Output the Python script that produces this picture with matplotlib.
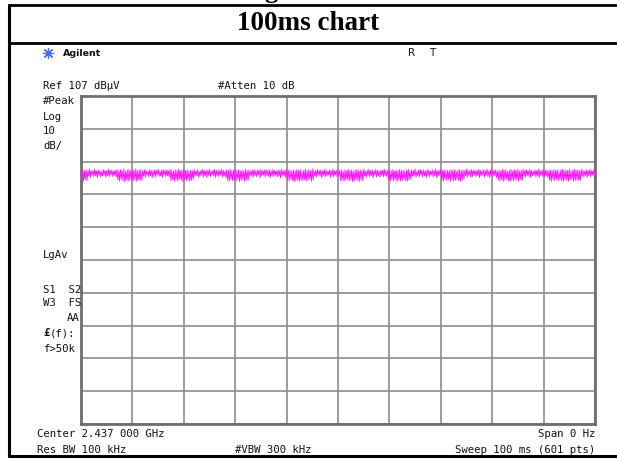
import numpy as np
import matplotlib
matplotlib.use("Agg")
import matplotlib.pyplot as plt
from matplotlib.lines import Line2D

W, H = 617, 459

# analyzer settings
REF_LEVEL = 107.0      # dBuV, top graticule line
DB_PER_DIV = 10.0
SWEEP_MS = 100.0
N_DIV = 10

# zero-span trace, dBuV, 601 sweep points
trace_db = [
    84.4, 81.3, 84.6, 81.0, 84.2, 81.5, 84.5, 81.2, 84.3, 82.6, 84.7, 82.2, 84.1, 82.9, 84.4, 82.4, 84.6, 82.7, 84.2, 82.1,
    84.5, 82.8, 84.3, 82.3, 84.0, 82.6, 84.6, 82.9, 84.4, 82.2, 84.2, 82.7, 84.7, 82.4, 84.3, 83.0, 84.5, 82.5, 84.1, 82.8,
    84.4, 82.3, 84.6, 81.4, 84.2, 81.1, 84.5, 81.6, 84.3, 81.2, 84.7, 80.9, 84.1, 81.5, 84.4, 81.0, 84.6, 81.3, 84.2, 81.6,
    84.5, 81.1, 84.3, 81.4, 84.8, 81.0, 84.2, 81.5, 84.4, 81.2, 84.6, 81.3, 84.1, 82.6, 84.5, 82.2, 84.3, 82.9, 84.0, 82.4,
    84.6, 82.7, 84.4, 82.1, 84.2, 82.8, 84.5, 82.3, 84.3, 83.0, 84.7, 82.5, 84.1, 82.6, 84.4, 82.2, 84.6, 82.9, 84.3, 82.4,
    84.5, 82.7, 84.2, 82.3, 84.6, 81.2, 84.4, 81.5, 84.1, 81.0, 84.5, 81.4, 84.3, 81.1, 84.7, 81.6, 84.2, 81.3, 84.4, 80.9,
    84.6, 81.5, 84.3, 81.2, 84.5, 81.4, 84.1, 81.0, 84.4, 81.3, 84.2, 81.6, 84.6, 82.5, 84.3, 82.8, 84.5, 82.2, 84.0, 82.6,
    84.4, 82.9, 84.6, 82.3, 84.2, 82.7, 84.5, 82.1, 84.3, 82.8, 84.7, 82.4, 84.1, 83.0, 84.4, 82.6, 84.6, 82.2, 84.3, 82.7,
    84.5, 82.4, 84.2, 82.9, 84.6, 82.3, 84.4, 82.6, 84.1, 82.2, 84.5, 81.3, 84.3, 81.0, 84.7, 81.5, 84.2, 81.2, 84.4, 81.4,
    84.6, 81.1, 84.3, 81.6, 84.5, 80.9, 84.1, 81.3, 84.4, 81.5, 84.2, 81.0, 84.6, 81.4, 84.3, 81.2, 84.5, 82.5, 84.0, 82.8,
    84.4, 82.2, 84.6, 82.7, 84.2, 82.4, 84.5, 83.0, 84.3, 82.1, 84.7, 82.6, 84.1, 82.9, 84.4, 82.3, 84.6, 82.8, 84.3, 82.5,
    84.5, 82.2, 84.2, 82.7, 84.6, 82.4, 84.4, 82.9, 84.1, 82.3, 84.5, 82.6, 84.3, 82.0, 84.7, 82.8, 84.2, 82.5, 84.4, 82.2,
    84.6, 81.4, 84.3, 81.1, 84.5, 81.6, 84.1, 81.2, 84.4, 80.9, 84.2, 81.5, 84.6, 81.3, 84.3, 81.0, 84.5, 81.4, 84.0, 81.2,
    84.4, 81.5, 84.6, 81.1, 84.2, 81.3, 84.5, 81.6, 84.3, 81.0, 84.7, 81.4, 84.1, 82.7, 84.4, 82.3, 84.6, 82.9, 84.3, 82.5,
    84.5, 82.1, 84.2, 82.8, 84.6, 82.4, 84.4, 82.6, 84.1, 83.0, 84.5, 82.2, 84.3, 82.7, 84.7, 82.4, 84.2, 82.9, 84.4, 82.3,
    84.6, 82.6, 84.3, 81.2, 84.5, 81.5, 84.1, 81.0, 84.4, 81.3, 84.2, 81.6, 84.6, 81.1, 84.3, 81.4, 84.5, 80.9, 84.0, 81.2,
    84.4, 81.5, 84.6, 81.3, 84.2, 81.0, 84.5, 81.4, 84.3, 81.1, 84.7, 82.6, 84.1, 82.2, 84.4, 82.8, 84.6, 82.4, 84.3, 82.7,
    84.5, 82.1, 84.2, 82.9, 84.6, 82.3, 84.4, 82.6, 84.1, 82.2, 84.5, 82.8, 84.3, 82.4, 84.7, 82.7, 84.2, 82.5, 84.4, 81.3,
    84.6, 81.0, 84.3, 81.5, 84.5, 81.2, 84.1, 81.6, 84.4, 80.9, 84.2, 81.4, 84.6, 81.1, 84.3, 81.3, 84.5, 81.5, 84.0, 81.2,
    84.4, 81.0, 84.6, 81.4, 84.2, 81.6, 84.5, 82.5, 84.3, 82.8, 84.7, 82.2, 84.1, 82.7, 84.4, 82.4, 84.6, 82.9, 84.3, 82.3,
    84.5, 82.6, 84.2, 82.1, 84.6, 82.8, 84.4, 82.4, 84.1, 83.0, 84.5, 82.3, 84.3, 82.7, 84.7, 82.2, 84.2, 82.6, 84.4, 82.9,
    84.6, 81.3, 84.3, 81.0, 84.5, 81.5, 84.1, 81.2, 84.4, 81.6, 84.2, 80.9, 84.6, 81.4, 84.3, 81.1, 84.5, 81.3, 84.0, 81.5,
    84.4, 81.2, 84.6, 81.0, 84.2, 81.4, 84.5, 81.6, 84.3, 82.7, 84.7, 82.3, 84.1, 82.8, 84.4, 82.2, 84.6, 82.5, 84.3, 82.9,
    84.5, 82.4, 84.2, 82.7, 84.6, 82.1, 84.4, 82.6, 84.1, 82.9, 84.5, 82.3, 84.3, 82.8, 84.7, 82.5, 84.2, 82.2, 84.4, 82.7,
    84.6, 82.4, 84.3, 82.8, 84.5, 82.2, 84.1, 81.4, 84.4, 81.1, 84.2, 81.5, 84.6, 81.0, 84.3, 81.3, 84.5, 81.6, 84.0, 81.2,
    84.4, 80.9, 84.6, 81.4, 84.2, 81.1, 84.5, 81.5, 84.3, 81.3, 84.7, 81.0, 84.1, 81.6, 84.4, 81.2, 84.6, 82.6, 84.3, 82.3,
    84.5, 82.8, 84.2, 82.4, 84.6, 82.1, 84.4, 82.7, 84.1, 82.9, 84.5, 82.3, 84.3, 82.6, 84.7, 82.2, 84.2, 82.8, 84.4, 82.5,
    84.6, 82.4, 84.3, 82.7, 84.5, 82.2, 84.1, 81.3, 84.4, 81.0, 84.2, 81.5, 84.6, 81.2, 84.3, 81.6, 84.5, 81.1, 84.0, 81.4,
    84.4, 81.2, 84.6, 80.9, 84.2, 81.5, 84.5, 81.3, 84.3, 81.0, 84.7, 81.4, 84.1, 81.6, 84.4, 81.1, 84.6, 81.3, 84.3, 81.5,
    84.5, 81.2, 84.2, 81.4, 84.6, 82.6, 84.4, 82.3, 84.1, 82.8, 84.5, 82.2, 84.3, 82.7, 84.7, 82.4, 84.2, 82.9, 84.4, 82.5,
    84.3,
]

# annotation texts
left_labels = [("Ref 107 dB\u03bcV", 86), ("#Peak", 101), ("Log", 117), ("10", 131),
               ("dB/", 146), ("LgAv", 255)]
center_freq = "Center 2.437 000 GHz"
span_text = "Span 0 Hz"
rbw_text = "Res BW 100 kHz"
vbw_text = "#VBW 300 kHz"
sweep_text = "Sweep 100 ms (601 pts)"
atten_text = "#Atten 10 dB"

MONO = "DejaVu Sans Mono"
FS = 7.7


def fx(x):
    return x / W


def fy(y):
    return 1 - y / H


def put(x, y, s, ha="left", **kw):
    kw.setdefault("family", MONO)
    kw.setdefault("fontsize", FS)
    kw.setdefault("color", "#111111")
    fig.text(fx(x), fy(y), s, ha=ha, va="center", **kw)


fig = plt.figure(figsize=(W / 100, H / 100), dpi=100)
fig.patch.set_facecolor("white")


# outer frame and title box
def hline(y, x0, x1, lw):
    fig.add_artist(Line2D([fx(x0), fx(x1)], [fy(y), fy(y)], color="black", lw=lw,
                          solid_capstyle="butt"))


def vline(x, y0, y1, lw):
    fig.add_artist(Line2D([fx(x), fx(x)], [fy(y0), fy(y1)], color="black", lw=lw,
                          solid_capstyle="butt"))


hline(5, 7.5, W, 2.0)
hline(43, 7.5, W, 2.0)
hline(455.5, 7.5, W, 2.2)
vline(9, 4, 457, 2.2)

# descender of the heading above, cut by the page edge
fig.text(fx(271), fy(-9), "g", ha="center", va="center", family="Liberation Serif",
         fontweight="bold", fontsize=19)
fig.text(fx(308), fy(24), "100ms chart", ha="center", va="center",
         family="Liberation Serif", fontweight="bold", fontsize=19.5)

# header line
fig.add_artist(Line2D([fx(48)], [fy(53)], marker=(8, 2, 0), markersize=8,
                      color="#4f6cff", mew=0.9))
fig.text(fx(63), fy(53), "Agilent", ha="left", va="center", family="DejaVu Sans",
         fontweight="bold", fontsize=6.8, color="#111111")
fig.text(fx(412), fy(53), "R", ha="center", va="center", family="DejaVu Sans",
         fontsize=7.5, color="#111111")
fig.text(fx(432), fy(53), "T", ha="center", va="center", family="DejaVu Sans",
         fontsize=7.5, color="#111111")

# graticule area
ax = fig.add_axes([fx(81), fy(424), (595 - 81) / W, (424 - 96) / H])
t_ms = np.linspace(0, SWEEP_MS, len(trace_db))
ax.plot(t_ms, trace_db, color="#ff1aff", lw=0.65, zorder=3)
ax.set_xlim(0, SWEEP_MS)
ax.set_ylim(REF_LEVEL - N_DIV * DB_PER_DIV, REF_LEVEL)
ax.set_xticks(np.linspace(0, SWEEP_MS, N_DIV + 1))
ax.set_yticks(np.linspace(REF_LEVEL - N_DIV * DB_PER_DIV, REF_LEVEL, N_DIV + 1))
ax.grid(True, color="#8c8c8c", lw=1.2)
ax.tick_params(length=0, labelbottom=False, labelleft=False)
for sp in ax.spines.values():
    sp.set_color("#6e6e6e")
    sp.set_linewidth(2.0)

# settings annotations
for s, y in left_labels:
    put(43, y, s)
put(218, 86, atten_text)
put(43, 290, "S1  S2")
put(43, 303, "W3  FS")
put(80, 318, "AA", ha="right")
put(43, 333, "\u00a3", fontweight="bold")
put(50, 333, "(f):")
put(43, 349, "f>50k")

put(37, 434, center_freq)
put(595, 434, span_text, ha="right")
put(37, 450, rbw_text)
put(235, 450, vbw_text)
put(595, 450, sweep_text, ha="right")

fig.savefig("out.png", dpi=100)
